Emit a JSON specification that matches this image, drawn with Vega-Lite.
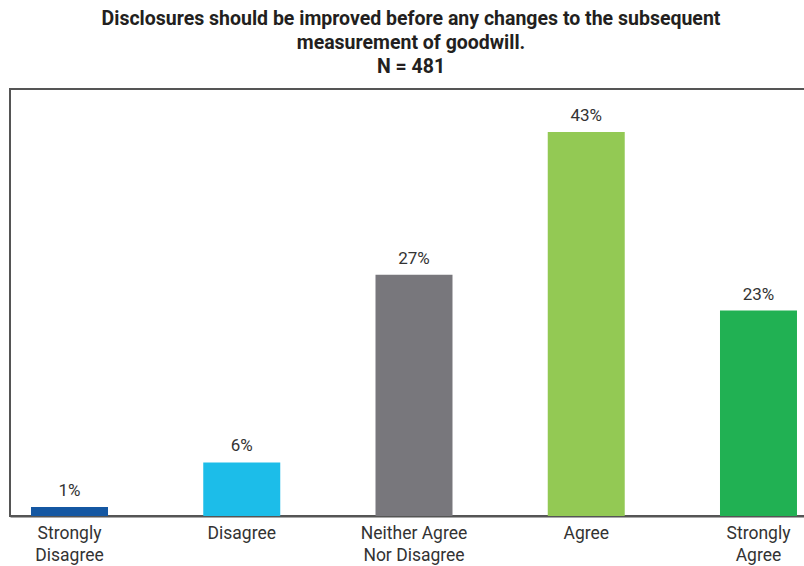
{
  "$schema": "https://vega.github.io/schema/vega-lite/v6.json",
  "autosize": {"type": "none"},
  "width": 808,
  "height": 427,
  "padding": {"left": 10, "top": 89, "right": 0, "bottom": 50},
  "background": "white",
  "title": {
    "text": ["Disclosures should be improved before any changes to the subsequent", "measurement of goodwill.", "N = 481"],
    "anchor": "middle",
    "font": "Roboto",
    "fontSize": 19.5,
    "fontWeight": "bold",
    "color": "#231f20",
    "lineHeight": 24,
    "offset": 12,
    "dx": -3
  },
  "config": {
    "view": {"stroke": "#555555", "strokeWidth": 2},
    "font": "Roboto"
  },
  "data": {
    "values": [
      {"response": "Strongly|Disagree", "pct": 1},
      {"response": "Disagree", "pct": 6},
      {"response": "Neither Agree|Nor Disagree", "pct": 27},
      {"response": "Agree", "pct": 43},
      {"response": "Strongly|Agree", "pct": 23}
    ]
  },
  "encoding": {
    "x": {
      "field": "response",
      "type": "nominal",
      "sort": null,
      "scale": {"paddingInner": 0.553, "paddingOuter": 0.122},
      "axis": {
        "title": null,
        "labelAngle": 0,
        "labelExpr": "split(datum.label, '|')",
        "labelFont": "Roboto",
        "labelFontSize": 17.5,
        "labelColor": "#333333",
        "labelLineHeight": 22,
        "labelPadding": 8,
        "ticks": false,
        "domain": true,
        "domainColor": "#555555",
        "domainWidth": 2
      }
    },
    "y": {
      "field": "pct",
      "type": "quantitative",
      "scale": {"domain": [0, 47.8], "nice": false},
      "axis": null
    }
  },
  "layer": [
    {
      "mark": {"type": "bar"},
      "encoding": {
        "color": {
          "field": "response",
          "type": "nominal",
          "scale": {
            "domain": ["Strongly|Disagree", "Disagree", "Neither Agree|Nor Disagree", "Agree", "Strongly|Agree"],
            "range": ["#1457a2", "#1cbde9", "#78777c", "#93c954", "#21b153"]
          },
          "legend": null
        }
      }
    },
    {
      "transform": [{"calculate": "datum.pct + '%'", "as": "label"}],
      "mark": {"type": "text", "baseline": "bottom", "dy": -7, "font": "Roboto", "fontSize": 17, "color": "#333333"},
      "encoding": {
        "text": {"field": "label", "type": "nominal"}
      }
    }
  ]
}
